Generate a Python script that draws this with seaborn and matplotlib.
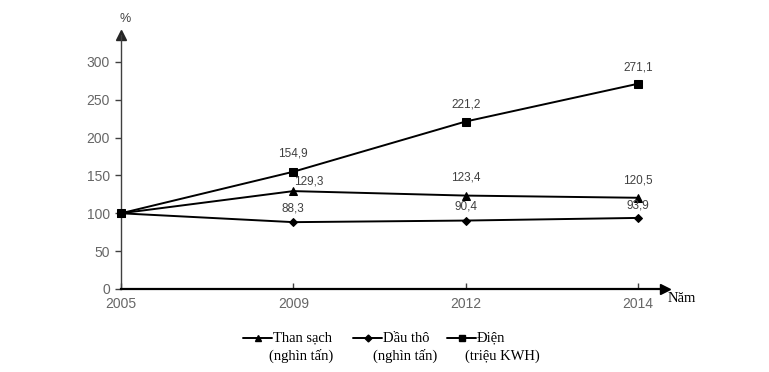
import matplotlib
matplotlib.use("Agg")
import matplotlib.pyplot as plt
import seaborn as sns
import pandas as pd
from matplotlib.lines import Line2D

years = ["2005", "2009", "2012", "2014"]
than_sach = [100, 129.3, 123.4, 120.5]
dau_tho = [100, 88.3, 90.4, 93.9]
dien = [100, 154.9, 221.2, 271.1]
y_ticks = [0, 50, 100, 150, 200, 250, 300]

series_names = ["Than sạch", "Dầu thô", "Điện"]
series_units = ["(nghìn tấn)", "(nghìn tấn)", "(triệu KWH)"]

sns.set_theme(style="white")
plt.rcParams["font.family"] = ["Liberation Sans", "DejaVu Sans"]

fig = plt.figure(figsize=(7.69, 3.72), dpi=100)
ax = fig.add_axes([121 / 769, 83 / 372, 544 / 769, 254 / 372])

pos = list(range(len(years)))
df = pd.DataFrame({"pos": pos, "than": than_sach, "dau": dau_tho, "dien": dien})

specs = [("than", "^", 5.5), ("dau", "D", 3.6), ("dien", "s", 5.2)]
for col, mk, ms in specs:
    sns.lineplot(data=df, x="pos", y=col, ax=ax, color="black", linewidth=1.4,
                 marker=mk, markersize=ms, markeredgecolor="black",
                 markerfacecolor="black", clip_on=False, zorder=3)

# data labels (skip 2005 base value)
offsets = {"than": [None, (15, 10), (0, 18), (0, 17)],
           "dau": [None, (0, 14), (0, 14), (0, 12)],
           "dien": [None, (0, 18), (0, 17), (0, 16)]}
for col, vals in [("than", than_sach), ("dau", dau_tho), ("dien", dien)]:
    for i, v in enumerate(vals):
        if offsets[col][i] is None:
            continue
        dx, dy = offsets[col][i]
        ax.annotate(f"{v:.1f}".replace(".", ","), (pos[i], v), xytext=(dx, dy),
                    textcoords="offset pixels", ha="center", va="center",
                    fontsize=8.5, color="#404040", zorder=5)

ax.set_xlim(0, 3.157)
ax.set_ylim(0, 335.5)
ax.set_xticks(pos)
ax.set_xticklabels(years)
ax.set_yticks(y_ticks)
ax.set_xlabel("")
ax.set_ylabel("")

for s in ["top", "right"]:
    ax.spines[s].set_visible(False)
ax.spines["left"].set_color("#404040")
ax.spines["left"].set_linewidth(1.0)
ax.spines["bottom"].set_color("black")
ax.spines["bottom"].set_linewidth(1.6)

ax.tick_params(axis="y", direction="out", length=4, width=1, color="#404040",
               labelsize=10, labelcolor="#666666", pad=4, left=True)
ax.tick_params(axis="x", direction="in", length=4, width=1, color="#404040",
               labelsize=10, labelcolor="#666666", pad=6, bottom=True)

# arrow heads
ax.plot(1, 0, ">", color="black", markersize=7, transform=ax.transAxes, clip_on=False)
ax.plot(0, 1, "^", color="#262626", markersize=7, transform=ax.transAxes, clip_on=False)

fig.text(125 / 769, 1 - 19 / 372, "%", fontsize=9, color="#404040",
         ha="center", va="center")
fig.text(668 / 769, 1 - 298 / 372, "Năm", fontsize=10.5, family=["Liberation Serif"],
         color="black", ha="left", va="center")

# legend
leg_x = [243, 353, 447]
line2_x = [269, 373, 465]
markers = ["^", "D", "s"]
msizes = [5, 3.5, 5]
y1 = 1 - 338 / 372
y2 = 1 - 356 / 372
for lx, l2x, name, unit, mk, ms in zip(leg_x, line2_x, series_names, series_units, markers, msizes):
    fig.add_artist(Line2D([lx / 769, (lx + 29) / 769], [y1, y1], color="black",
                          linewidth=1.4, transform=fig.transFigure))
    fig.add_artist(Line2D([(lx + 14.5) / 769], [y1], color="black", marker=mk,
                          markersize=ms, transform=fig.transFigure))
    fig.text((lx + 30) / 769, y1, name, fontsize=10.5, family=["Liberation Serif"],
             ha="left", va="center", color="black")
    fig.text(l2x / 769, y2, unit, fontsize=10.5, family=["Liberation Serif"],
             ha="left", va="center", color="black")

fig.savefig("out.png", dpi=100)
